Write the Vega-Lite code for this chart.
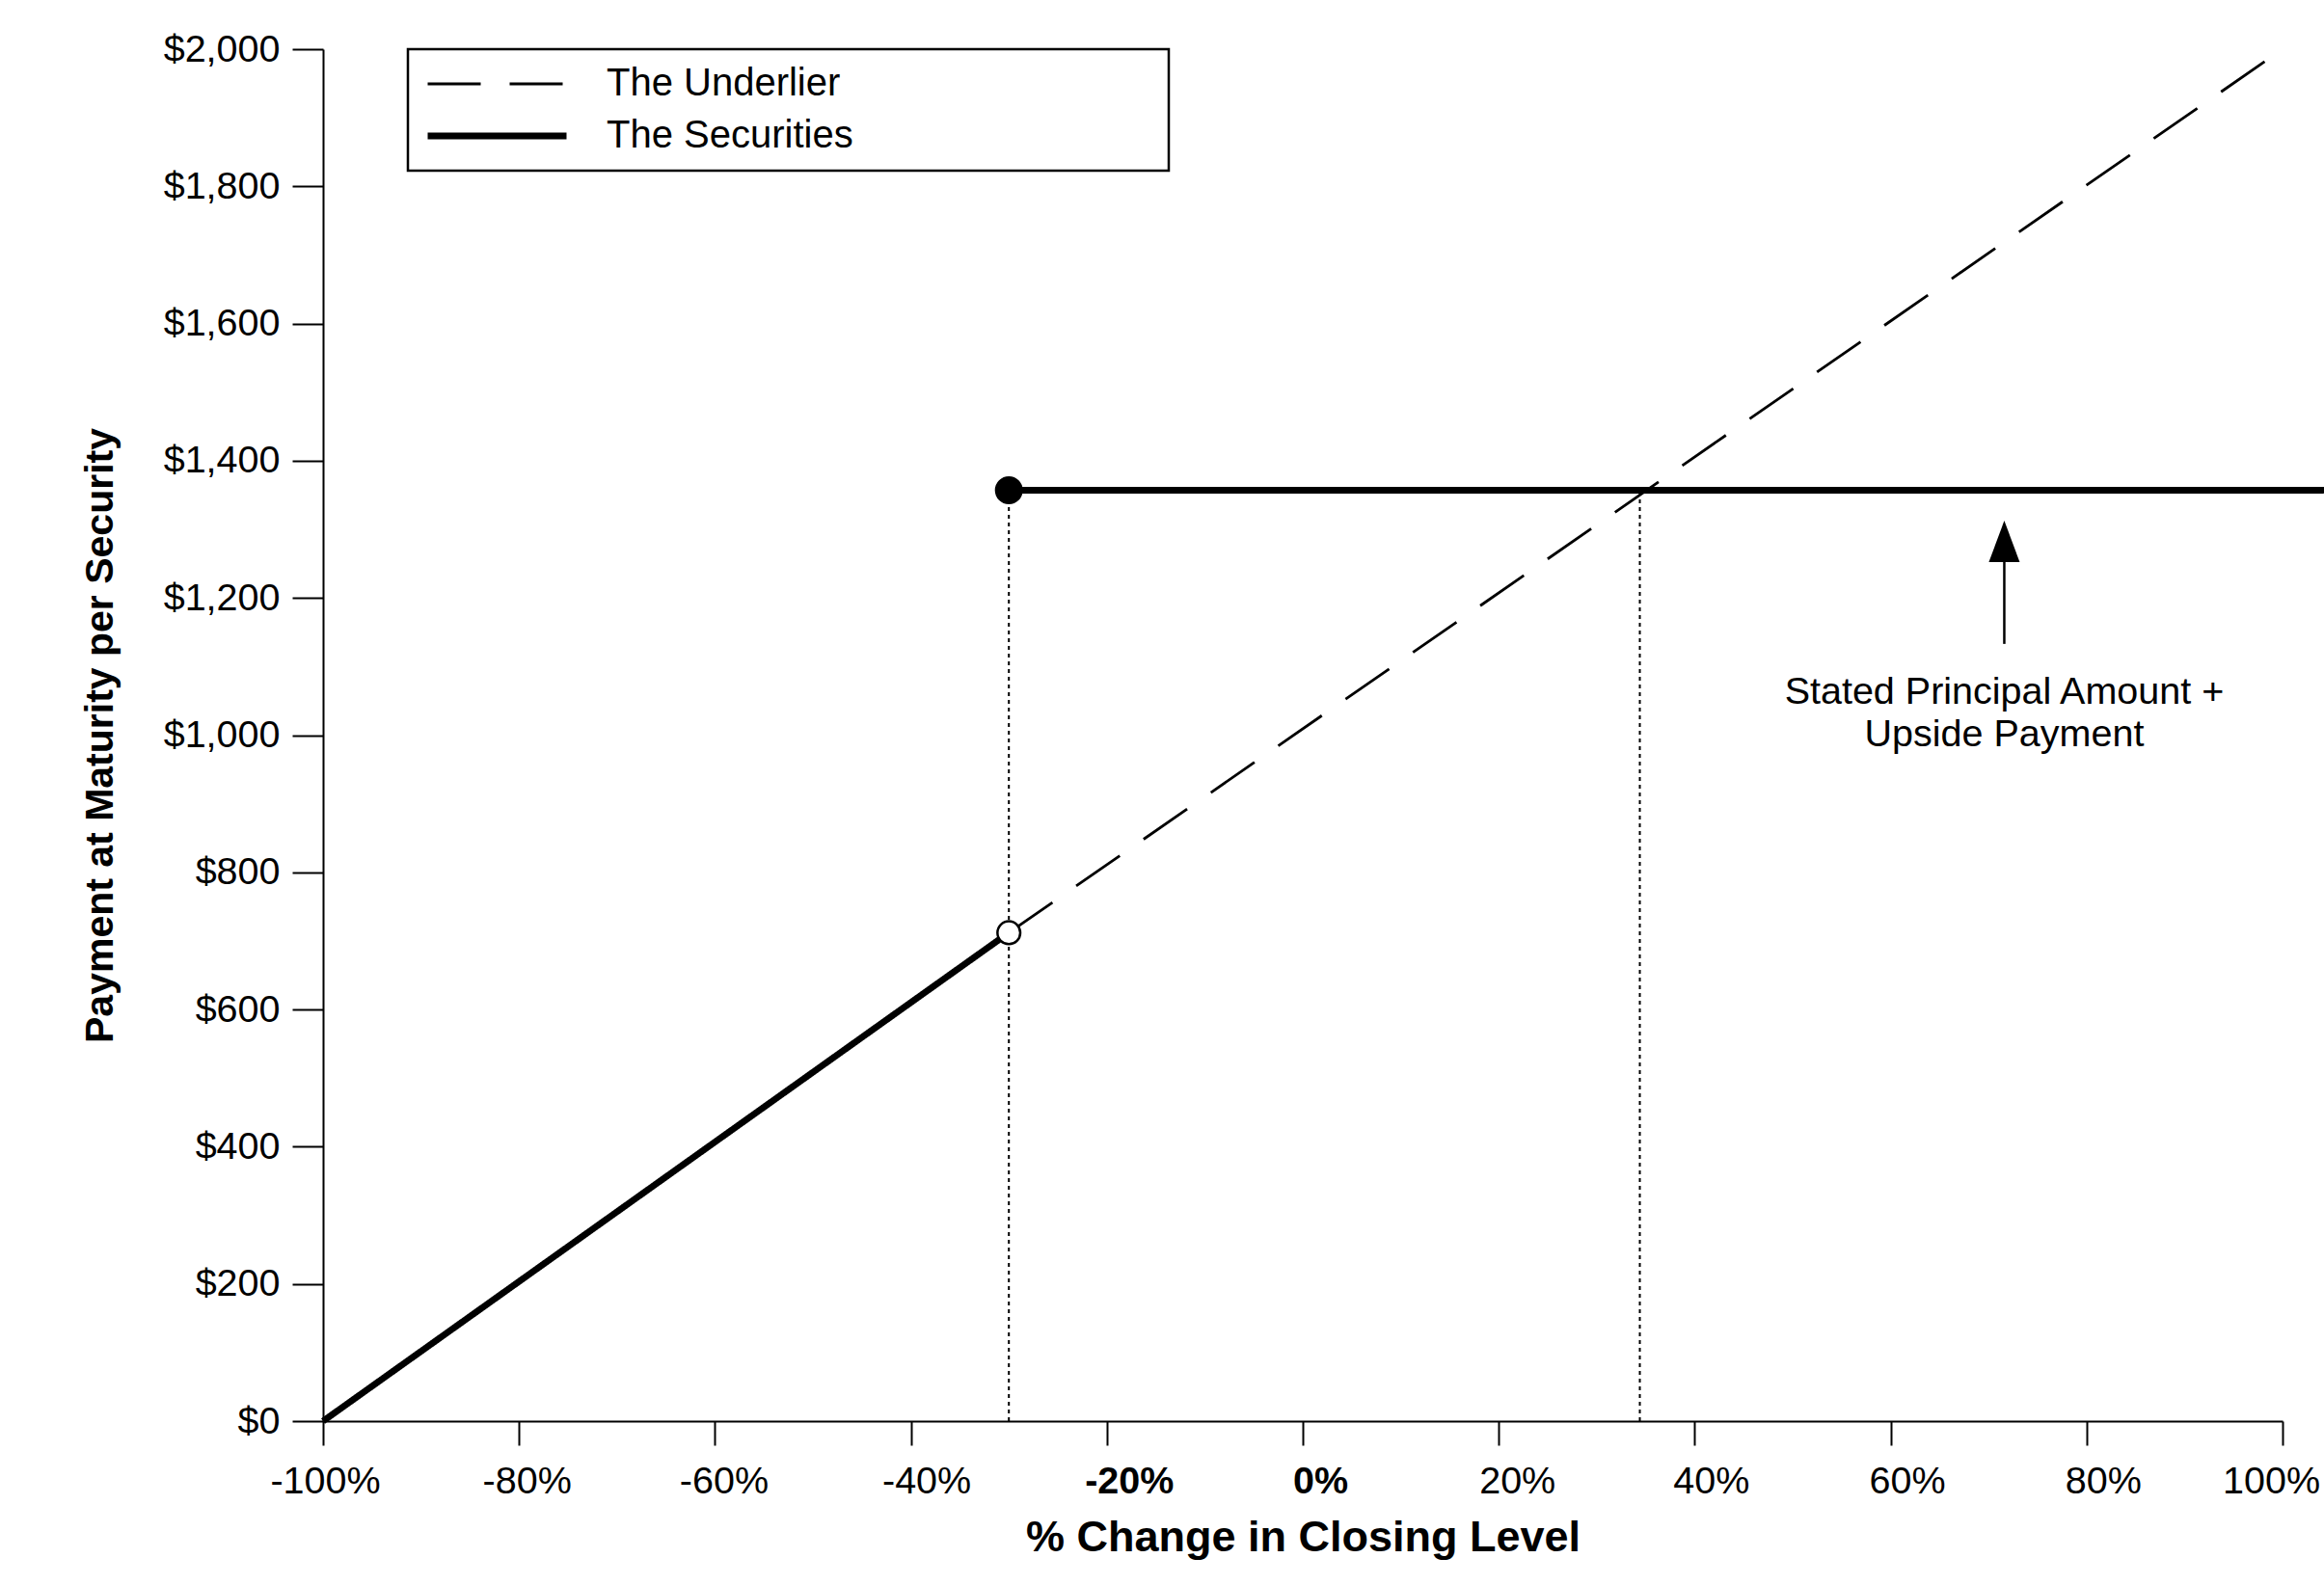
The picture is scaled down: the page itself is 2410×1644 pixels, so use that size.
{
  "$schema": "https://vega.github.io/schema/vega-lite/v6.json",
  "width": 2032,
  "height": 1423,
  "autosize": {"type": "none"},
  "padding": {"left": 335, "top": 51, "right": 43, "bottom": 170},
  "background": "white",
  "datasets": {
    "lines": [
      {"series": "The Underlier", "seg": "u", "x": -30, "y": 712},
      {"series": "The Underlier", "seg": "u", "x": 100, "y": 2000},
      {"series": "The Securities", "seg": "a", "x": -100, "y": 0},
      {"series": "The Securities", "seg": "a", "x": -30, "y": 712},
      {"series": "The Securities", "seg": "b", "x": -30, "y": 1357},
      {"series": "The Securities", "seg": "b", "x": 106, "y": 1357}
    ],
    "guides": [
      {"x": -30, "y": 0, "y2": 1357},
      {"x": 34.4, "y": 0, "y2": 1357}
    ],
    "dots": [
      {"kind": "filled", "x": -30, "y": 1357},
      {"kind": "open", "x": -30, "y": 712}
    ],
    "shaft": [
      {"x": 71.6, "y": 1133, "y2": 1262}
    ],
    "head": [
      {"x": 71.6, "y": 1282.6}
    ],
    "note": [
      {"x": 71.6, "y": 1062.6, "text": "Stated Principal Amount +"},
      {"x": 71.6, "y": 1000.7, "text": "Upside Payment"}
    ]
  },
  "encoding": {
    "x": {
      "field": "x",
      "type": "quantitative",
      "scale": {"domain": [-100, 100], "nice": false, "zero": false},
      "axis": {
        "values": [-100, -80, -60, -40, -20, 0, 20, 40, 60, 80, 100],
        "labelExpr": "datum.value + '%'",
        "labelFlush": false,
        "labelOverlap": false,
        "tickSize": 25,
        "labelPadding": 18,
        "labelFontSize": 39.5,
        "labelOffset": {
          "condition": [
            {"test": "datum.value == -100", "value": 2},
            {"test": "datum.value == -80", "value": 8},
            {"test": "datum.value == -60", "value": 9},
            {"test": "datum.value == -40", "value": 16},
            {"test": "datum.value == -20", "value": 23},
            {"test": "datum.value == 0", "value": 18},
            {"test": "datum.value == 20", "value": 19},
            {"test": "datum.value == 100", "value": -12}
          ],
          "value": 17
        },
        "labelFontWeight": {
          "condition": {"test": "datum.value == -20 || datum.value == 0", "value": "bold"},
          "value": "normal"
        },
        "title": "% Change in Closing Level",
        "titleFontSize": 45,
        "titleFontWeight": "bold",
        "titlePadding": 17
      }
    },
    "y": {
      "field": "y",
      "type": "quantitative",
      "scale": {"domain": [0, 2000], "nice": false},
      "axis": {
        "values": [0, 200, 400, 600, 800, 1000, 1200, 1400, 1600, 1800, 2000],
        "format": "$,.0f",
        "labelFlush": false,
        "labelOverlap": false,
        "tickSize": 32,
        "labelPadding": 13,
        "labelFontSize": 39.5,
        "title": "Payment at Maturity per Security",
        "titleFontSize": 41,
        "titleFontWeight": "bold",
        "titlePadding": 44
      }
    }
  },
  "layer": [
    {
      "data": {"name": "guides"},
      "mark": {"type": "rule", "color": "black", "strokeWidth": 2, "strokeDash": [4, 4]},
      "encoding": {"y2": {"field": "y2"}}
    },
    {
      "data": {"name": "lines"},
      "mark": {"type": "line", "color": "black"},
      "encoding": {
        "detail": {"field": "seg"},
        "strokeDash": {
          "field": "series",
          "type": "nominal",
          "scale": {"domain": ["The Underlier", "The Securities"], "range": [[55, 30], [1, 0]]},
          "legend": {
            "title": null,
            "orient": "none",
            "legendX": 88,
            "legendY": 0,
            "strokeColor": "black",
            "padding": 16,
            "rowPadding": 14,
            "symbolType": "M-6,0H6",
            "symbolSize": 576,
            "symbolOffset": 56.5,
            "symbolStrokeColor": "black",
            "labelOffset": 93.5,
            "labelFontSize": 40,
            "labelLimit": 1000,
            "labelExpr": "datum.label + '                            \u200b'",
            "encode": {"legend": {"update": {"strokeWidth": {"value": 2.5}}}}
          }
        },
        "strokeWidth": {
          "field": "series",
          "type": "ordinal",
          "scale": {"domain": ["The Underlier", "The Securities"], "range": [2.8, 6.8]},
          "legend": {
            "title": null,
            "orient": "none",
            "legendX": 88,
            "legendY": 0,
            "strokeColor": "black",
            "padding": 16,
            "rowPadding": 14,
            "symbolType": "M-6,0H6",
            "symbolSize": 576,
            "symbolOffset": 56.5,
            "symbolStrokeColor": "black",
            "labelOffset": 93.5,
            "labelFontSize": 40,
            "labelLimit": 1000,
            "labelExpr": "datum.label + '                            \u200b'",
            "encode": {"legend": {"update": {"strokeWidth": {"value": 2.5}}}}
          }
        }
      }
    },
    {
      "data": {"name": "dots"},
      "mark": {"type": "point", "shape": "circle", "filled": true, "stroke": "black", "strokeWidth": 2.5, "opacity": 1},
      "encoding": {
        "fill": {
          "field": "kind",
          "type": "nominal",
          "scale": {"domain": ["filled", "open"], "range": ["black", "white"]},
          "legend": null
        },
        "size": {
          "field": "kind",
          "type": "nominal",
          "scale": {"domain": ["filled", "open"], "range": [700, 560]},
          "legend": null
        }
      }
    },
    {
      "data": {"name": "shaft"},
      "mark": {"type": "rule", "color": "black", "strokeWidth": 2.5},
      "encoding": {"y2": {"field": "y2"}}
    },
    {
      "data": {"name": "head"},
      "mark": {"type": "point", "shape": "M0,-1L-0.744,1L0.744,1Z", "size": 1849, "filled": true, "color": "black", "opacity": 1}
    },
    {
      "data": {"name": "note"},
      "mark": {"type": "text", "align": "center", "baseline": "middle", "fontSize": 39.5, "color": "black"},
      "encoding": {"text": {"field": "text"}}
    }
  ],
  "config": {
    "view": {"stroke": null},
    "font": "Liberation Sans",
    "axis": {
      "grid": false,
      "domainColor": "black",
      "domainWidth": 2,
      "tickColor": "black",
      "tickWidth": 2,
      "labelColor": "black",
      "titleColor": "black",
      "labelFont": "Liberation Sans",
      "titleFont": "Liberation Sans"
    },
    "legend": {"labelFont": "Liberation Sans", "labelColor": "black"}
  }
}
